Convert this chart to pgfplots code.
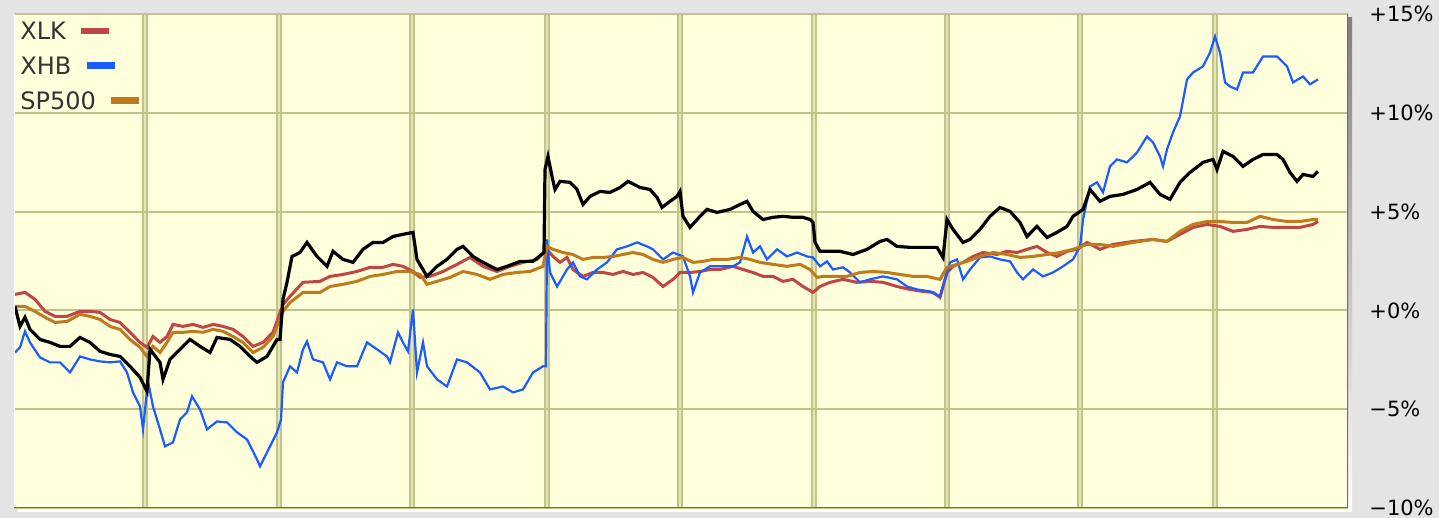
\documentclass[border=0pt]{standalone}
\usepackage{fontspec}
\setmainfont{DejaVu Sans}
\usepackage{pgfplots}
\pgfplotsset{compat=1.18}

\definecolor{pagegray}{HTML}{E4E4E4}
\definecolor{plotbg}{HTML}{FFFFDC}
\definecolor{gridolive}{HTML}{C2C28A}
\definecolor{gridgap}{HTML}{E6E6B4}
\definecolor{shade}{HTML}{9C9C9C}
\definecolor{frame}{HTML}{6E6E6E}
\definecolor{xlk}{HTML}{C04646}
\definecolor{xhb}{HTML}{1A5CFF}
\definecolor{spx}{HTML}{C07A1E}
\definecolor{labelgray}{HTML}{333333}

\newcommand{\keybar}[1]{\hspace{6pt}\tikz[baseline={(0,-4.4pt)}]\draw[#1, line width=3.4pt] (0pt,0pt) -- (14pt,0pt);}

% percent change, x = trading-day position
\pgfplotstableread{
x y
1 0.81
11 0.91
21 0.56
31 -0.05
41 -0.30
53 -0.30
66 -0.05
76 -0.05
86 -0.10
96 -0.46
106 -0.61
116 -1.11
126 -1.62
133 -1.87
139 -1.32
146 -1.62
153 -1.32
159 -0.71
169 -0.81
179 -0.71
189 -0.86
199 -0.71
209 -0.81
219 -0.96
229 -1.32
239 -1.82
249 -1.62
259 -1.11
269 0.30
276 0.71
289 1.42
306 1.47
316 1.72
329 1.82
343 1.97
356 2.18
369 2.18
379 2.33
389 2.23
399 1.97
406 1.67
416 1.72
429 1.97
443 2.33
456 2.68
469 2.23
483 1.97
496 2.23
509 2.43
523 2.58
533 3.09
539 2.73
546 2.43
553 2.68
559 2.07
569 1.72
579 1.92
589 1.92
599 1.82
609 1.97
619 1.82
629 1.92
639 1.67
649 1.21
659 1.57
666 1.92
676 1.92
686 1.97
696 2.07
706 2.07
719 2.23
729 2.07
739 1.92
749 1.72
759 1.72
769 1.47
779 1.57
789 1.21
799 0.91
806 1.21
816 1.42
829 1.57
843 1.42
856 1.47
869 1.42
883 1.21
896 1.06
909 0.96
919 0.91
926 0.66
933 1.92
939 2.23
949 2.43
959 2.73
969 2.93
983 2.83
993 2.99
1003 2.93
1013 3.09
1023 3.24
1033 2.93
1043 2.73
1053 2.99
1063 3.09
1073 3.44
1086 3.09
1099 3.34
1119 3.49
1139 3.59
1153 3.49
1166 3.85
1179 4.20
1193 4.35
1206 4.25
1219 4.00
1233 4.10
1246 4.25
1259 4.20
1273 4.20
1286 4.20
1299 4.35
1304 4.50
}\xlk

\pgfplotstableread{
x y
1 -2.13
6 -1.87
11 -1.06
16 -1.62
26 -2.38
36 -2.63
46 -2.63
56 -3.14
66 -2.33
76 -2.48
86 -2.58
96 -2.63
106 -2.58
113 -3.14
119 -4.15
126 -4.86
129 -6.02
134 -3.59
139 -4.86
146 -6.02
151 -6.88
159 -6.68
166 -5.52
173 -5.16
178 -4.35
186 -5.01
193 -6.02
203 -5.62
213 -5.67
223 -6.17
233 -6.53
243 -7.54
246 -7.89
253 -7.19
263 -6.17
267 -5.52
269 -3.64
276 -2.83
283 -3.14
289 -1.97
293 -1.57
299 -2.48
309 -2.63
316 -3.49
323 -2.63
333 -2.83
343 -2.83
353 -1.62
363 -1.97
373 -2.33
376 -2.63
384 -1.11
389 -1.62
394 -2.07
399 0.05
403 -3.14
409 -1.62
413 -2.83
423 -3.49
433 -3.85
443 -2.48
453 -2.63
466 -3.14
476 -4.00
489 -3.85
499 -4.15
509 -4.00
519 -3.14
529 -2.83
532 -2.83
533 3.59
536 1.92
543 1.21
553 2.07
559 2.43
566 1.72
573 1.57
583 2.07
593 2.43
603 3.09
613 3.24
623 3.44
633 3.24
639 3.09
649 2.58
659 2.93
669 2.73
676 1.72
679 0.91
686 1.92
696 2.23
706 2.23
719 2.23
726 2.43
733 3.74
739 2.93
746 3.24
753 2.58
763 3.09
773 2.73
783 2.93
793 2.73
799 2.68
806 2.23
813 2.48
819 2.07
829 2.18
836 1.92
846 1.42
856 1.57
869 1.72
883 1.57
893 1.21
903 1.06
916 0.96
926 0.71
931 1.57
936 2.43
943 2.58
949 1.57
956 2.07
966 2.68
976 2.73
986 2.58
996 2.48
1003 1.92
1009 1.57
1019 2.07
1029 1.72
1039 1.92
1049 2.23
1059 2.58
1066 3.24
1069 4.60
1076 6.27
1083 6.48
1089 5.97
1096 7.29
1103 7.64
1113 7.49
1123 7.99
1133 8.80
1139 8.50
1146 7.79
1149 7.29
1153 8.15
1159 9.01
1166 9.82
1173 11.69
1179 12.04
1189 12.35
1196 13.05
1201 13.86
1206 13.05
1211 11.54
1216 11.33
1223 11.18
1229 12.04
1239 12.04
1249 12.85
1263 12.85
1273 12.35
1279 11.54
1289 11.84
1296 11.44
1304 11.69
}\xhb

\pgfplotstableread{
x y
1 0.20
11 0.20
21 -0.05
31 -0.35
41 -0.61
53 -0.56
66 -0.20
76 -0.30
86 -0.46
96 -0.81
106 -0.96
116 -1.47
126 -1.87
133 -2.33
139 -1.82
146 -2.13
153 -1.62
159 -1.11
169 -1.11
179 -1.06
189 -1.11
199 -0.96
209 -1.06
219 -1.32
229 -1.62
239 -2.13
249 -1.87
259 -1.32
269 -0.05
276 0.40
289 0.91
306 0.91
316 1.21
329 1.32
343 1.47
356 1.72
369 1.82
383 1.97
396 1.97
406 1.82
413 1.32
423 1.47
436 1.67
449 1.97
463 1.82
476 1.57
489 1.82
503 1.92
516 1.97
529 2.23
533 3.24
539 3.09
549 2.93
559 2.83
569 2.58
579 2.68
589 2.68
599 2.73
609 2.83
619 2.93
629 2.83
639 2.58
649 2.43
659 2.58
669 2.68
679 2.43
689 2.48
699 2.58
713 2.58
726 2.68
736 2.58
746 2.43
759 2.33
773 2.23
786 2.33
796 2.07
803 1.67
809 1.72
819 1.72
833 1.72
846 1.92
859 1.97
873 1.92
886 1.82
899 1.72
913 1.72
926 1.57
933 2.18
943 2.33
953 2.48
966 2.73
979 2.93
993 2.83
1006 2.68
1019 2.73
1033 2.83
1046 2.93
1059 3.09
1073 3.34
1086 3.34
1099 3.24
1119 3.44
1139 3.59
1153 3.49
1166 4.00
1179 4.35
1193 4.50
1206 4.50
1219 4.45
1233 4.45
1246 4.76
1259 4.60
1273 4.50
1286 4.50
1299 4.60
1304 4.60
}\spx

\pgfplotstableread{
x y
1 0.20
6 -0.81
11 -0.35
16 -0.96
26 -1.47
36 -1.62
46 -1.82
56 -1.82
66 -1.37
76 -1.62
86 -2.07
96 -2.23
106 -2.33
116 -2.83
126 -3.39
133 -4.10
136 -1.97
146 -2.63
149 -3.49
156 -2.48
166 -1.97
176 -1.47
186 -1.82
196 -2.13
203 -1.37
216 -1.47
226 -1.82
236 -2.33
243 -2.63
253 -2.33
263 -1.47
266 -1.47
269 0.56
273 1.42
278 2.73
286 2.93
293 3.44
303 2.73
313 2.23
319 2.99
329 2.58
339 2.43
349 3.09
359 3.44
369 3.44
379 3.74
389 3.85
399 3.95
403 2.58
413 1.72
423 2.23
433 2.58
443 3.09
449 3.24
459 2.73
469 2.43
483 2.07
493 2.23
506 2.48
519 2.48
530 2.93
531 7.13
534 7.79
538 6.78
541 6.12
546 6.53
556 6.48
563 6.12
569 5.36
576 5.77
586 6.02
596 5.97
606 6.22
614 6.53
626 6.22
636 6.12
643 5.72
648 5.21
656 5.52
663 5.77
666 6.02
669 4.76
676 4.20
686 4.76
693 5.11
703 4.96
716 5.11
726 5.36
733 5.52
739 5.01
749 4.60
759 4.71
769 4.76
779 4.71
789 4.71
796 4.60
799 4.45
801 3.44
806 2.99
816 2.99
826 2.99
839 2.83
853 3.09
866 3.49
873 3.59
883 3.24
896 3.19
909 3.19
923 3.19
929 2.68
933 4.60
939 4.10
949 3.44
956 3.59
966 4.10
976 4.76
986 5.21
996 5.01
1006 4.45
1013 3.74
1023 4.25
1033 3.69
1043 3.95
1053 4.25
1059 4.76
1069 5.11
1076 6.12
1086 5.52
1096 5.77
1109 5.87
1123 6.12
1136 6.48
1146 5.87
1156 5.62
1166 6.48
1176 6.98
1189 7.49
1199 7.64
1203 7.13
1209 8.05
1219 7.79
1229 7.29
1239 7.64
1249 7.89
1263 7.89
1269 7.64
1276 6.98
1283 6.53
1289 6.88
1299 6.78
1304 7.03
}\other

\begin{document}
\begin{tikzpicture}
\path[use as bounding box, fill=pagegray] (0,0) rectangle (719.5pt,259pt);
\fill[shade] (9pt,3pt) rectangle (676pt,250pt);
\begin{axis}[
  at={(7pt,5pt)}, anchor=south west,
  scale only axis, width=667pt, height=247pt,
  xmin=0, xmax=1334, ymin=-10, ymax=15,
  xtick={131,265,398,533,666,800,933,1066,1201},
  xticklabels={},
  ytick={-10,-5,0,5,10,15},
  yticklabels={−10\%,−5\%,+0\%,+5\%,+10\%,+15\%},
  yticklabel pos=right,
  major tick length=0pt,
  y tick label style={anchor=west, inner sep=0pt, xshift=10.5pt, font=\fontsize{10.5}{12}\selectfont, text=black},
  axis line style={draw=none},
  axis background/.style={fill=plotbg},
  grid=major,
  x grid style={draw=gridolive, line width=0.9pt, double=gridgap, double distance=0.9pt},
  y grid style={draw=gridolive, line width=1pt},
  legend style={at={(0,1)}, anchor=north west, xshift=1pt, yshift=-2pt,
    draw=none, fill=none, inner sep=0pt, row sep=3pt,
    nodes={inner sep=2pt}, font=\fontsize{12}{14}\selectfont, text=labelgray},
  legend plot pos=none,
  legend cell align=left,
]
\addplot[xlk, line width=1.5pt] table {\xlk};
\addlegendentry{XLK\keybar{xlk}}
\addplot[xhb, line width=1.1pt] table {\xhb};
\addlegendentry{XHB\keybar{xhb}}
\addplot[spx, line width=1.5pt] table {\spx};
\addlegendentry{SP500\keybar{spx}}
\addplot[black, line width=1.6pt, forget plot] table {\other};
\draw[white, line width=0.8pt] (rel axis cs:0,0) -- (rel axis cs:0,1);
\draw[frame, line width=1pt] (rel axis cs:0,0) -- (rel axis cs:1,0) -- (rel axis cs:1,1);
\end{axis}
\end{tikzpicture}
\end{document}
